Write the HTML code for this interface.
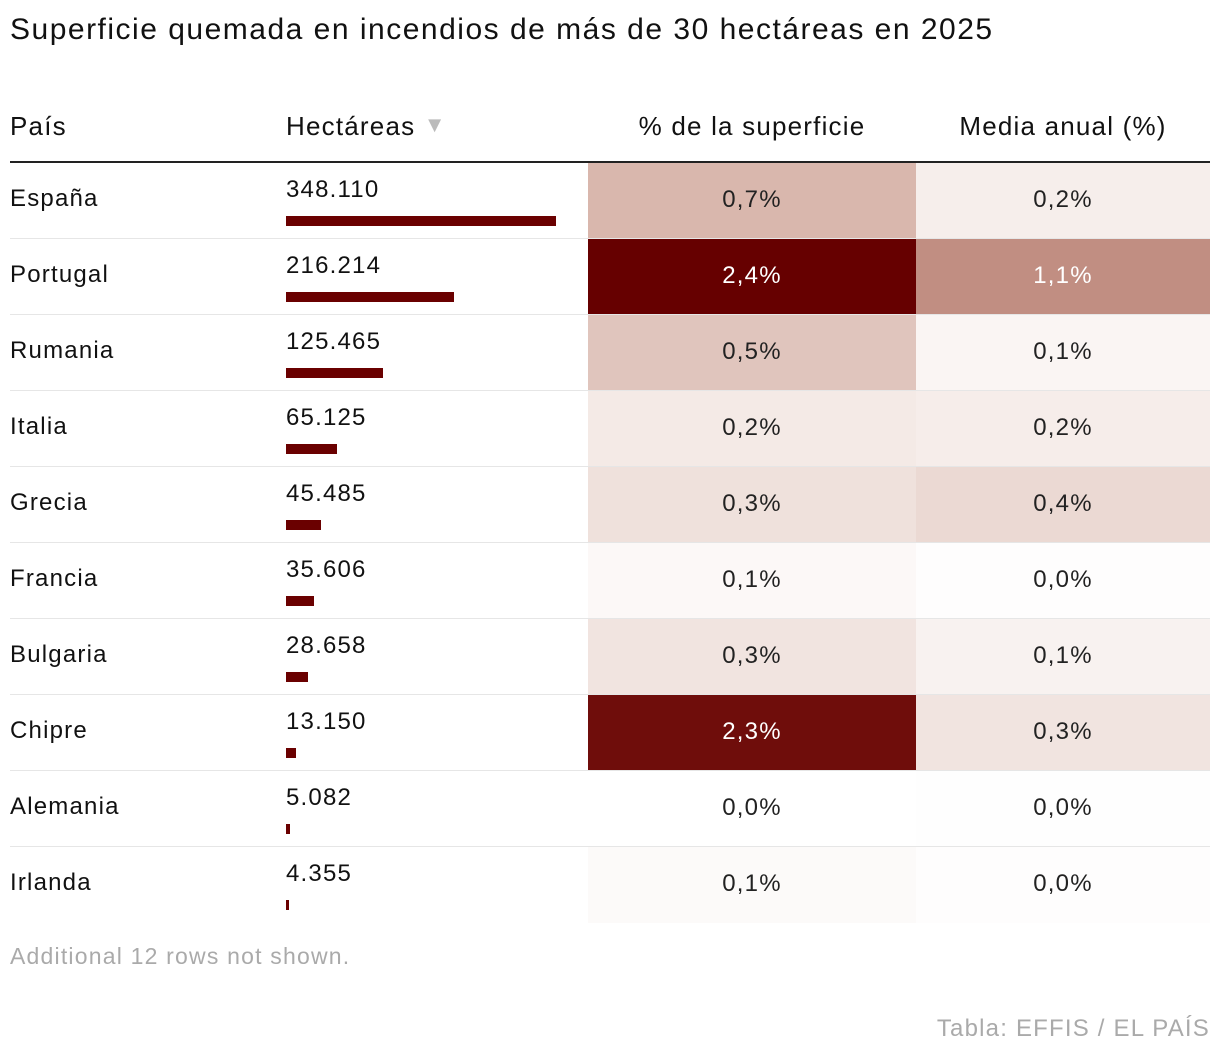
<!DOCTYPE html>
<html><head><meta charset="utf-8">
<style>
body{margin:0;background:#fff;font-family:"Liberation Sans",sans-serif;color:#111;}
#wrap{position:relative;width:1220px;height:1058px;}
.t{position:absolute;white-space:nowrap;letter-spacing:1.2px;}
</style></head>
<body>
<div id="wrap">
<div class="t" style="left:10px;top:13px;font-size:30px;letter-spacing:1.5px;">Superficie quemada en incendios de más de 30 hectáreas en 2025</div>
<div class="t" style="left:10px;top:111px;font-size:26px;">País</div>
<div class="t" style="left:286px;top:111px;font-size:26px;">Hectáreas <span style="color:#bbb;font-size:22px;position:relative;top:-3px;">▼</span></div>
<div class="t" style="left:588px;width:328px;text-align:center;top:111px;font-size:26px;">% de la superficie</div>
<div class="t" style="left:916px;width:294px;text-align:center;top:111px;font-size:26px;">Media anual (%)</div>
<div style="position:absolute;left:10px;top:161px;width:1200px;height:2px;background:#222;"></div>
<div id="rows"></div>
<div class="t" style="left:10px;top:943px;font-size:23px;color:#aaa;">Additional 12 rows not shown.</div>
<div class="t" style="right:10px;top:1015px;font-size:24px;color:#aaa;">Tabla: EFFIS / EL PAÍS</div>
</div>
<script>
const countries=["España","Portugal","Rumania","Italia","Grecia","Francia","Bulgaria","Chipre","Alemania","Irlanda"];
const hectares=[348110,216214,125465,65125,45485,35606,28658,13150,5082,4355];
const pctSurface=[0.7,2.4,0.5,0.2,0.3,0.1,0.3,2.3,0.0,0.1];
const pctShade=[0.68,2.4,0.55,0.2,0.28,0.07,0.25,2.28,0.0,0.05];
const mediaAnual=[0.2,1.1,0.1,0.2,0.4,0.0,0.1,0.3,0.0,0.0];
const mediaShade=[0.16,1.06,0.09,0.17,0.36,0.02,0.12,0.25,0.01,0.02];
const rowsEl=document.getElementById('rows');
const top0=163,rowH=76,barX=286,barMax=270;
const fmt=v=>v.toLocaleString('de-DE');
const fmtP=v=>v.toFixed(1).replace('.',',')+'%';
function color(v){const f=Math.min(v/2.4,1);const r=Math.round(255-f*153),g=Math.round(255-f*255),b=Math.round(255-f*255);return `rgb(${Math.min(255,r+6*(1-f)*f*4)},${g},${Math.round(b-12*f*(1-f)*4)})`;}
function add(html,name,style,inter){const d=document.createElement('div');d.className='t';d.innerHTML=html;d.style.cssText=style;


rowsEl.appendChild(d);return d;}
countries.forEach((c,i)=>{
const y=top0+i*rowH;
add('','pct-cell-'+i,`left:588px;top:${y}px;width:328px;height:${rowH-(i<9?1:0)}px;background:${color(pctShade[i])};`);
add('','media-cell-'+i,`left:916px;top:${y}px;width:294px;height:${rowH-(i<9?1:0)}px;background:${color(mediaShade[i])};`);
if(i<9) add('','row-divider-'+i,`left:10px;top:${y+rowH-1}px;width:1200px;height:1px;background:#e6e6e6;`);
add(c,'country-label-'+i,`left:10px;top:${y+22}px;font-size:24px;`);
add(fmt(hectares[i]),'hectares-value-'+i,`left:286px;top:${y+13}px;font-size:24px;`);
const w=Math.max(3,hectares[i]/hectares[0]*barMax);
add('','hectares-bar-'+i,`left:${barX}px;top:${y+53}px;width:${w}px;height:10px;background:#6a0000;`);
const dark1=pctShade[i]>1.5, dark2=mediaShade[i]>0.9;
add(fmtP(pctSurface[i]),'pct-value-'+i,`left:588px;width:328px;text-align:center;top:${y+23}px;font-size:24px;color:${dark1?'#fff':'#222'};`);
add(fmtP(mediaAnual[i]),'media-value-'+i,`left:916px;width:294px;text-align:center;top:${y+23}px;font-size:24px;color:${dark2?'#fff':'#222'};`);
});
</script>
</body></html>
